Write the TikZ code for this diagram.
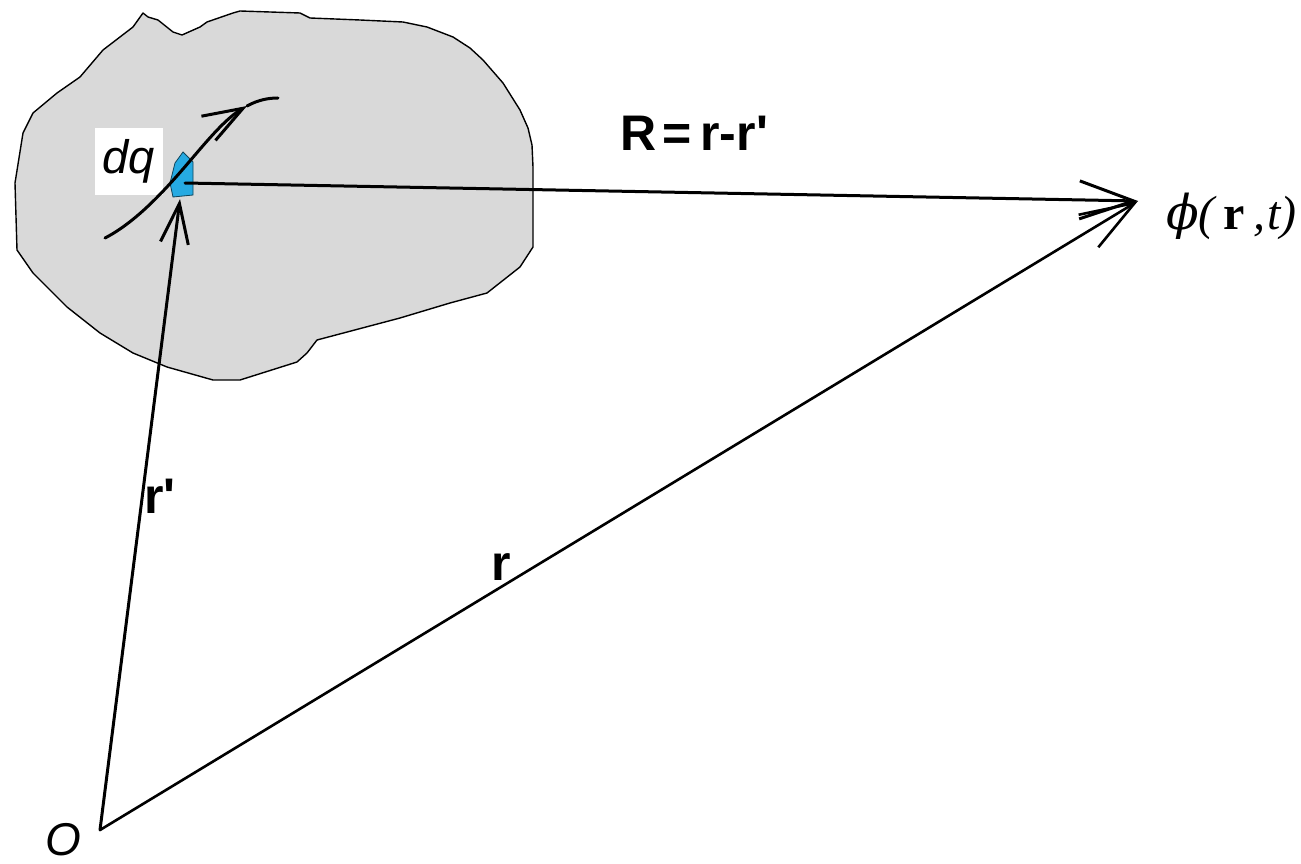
\documentclass[tikz,border=0pt]{standalone}
\usepackage{fontspec}
\setmainfont{Liberation Sans}
\newfontfamily\serifit{Liberation Serif}
\newfontfamily\phifont{DejaVu Serif}
\usetikzlibrary{arrows.meta}
\definecolor{blobgray}{RGB}{217,217,217}
\definecolor{dqblue}{RGB}{38,170,226}
\tikzset{
  blob/.style={draw=black, line width=1.4pt, fill=blobgray, line join=round},
  vec/.style={draw=black, line width=3pt, line cap=round},
  bigbarb/.style={-{Straight Barb[length=54pt,width=38pt]}},
  smallbarb/.style={-{Straight Barb[length=40pt,width=28pt]}},
  lab/.style={font=\fontsize{50}{54}\selectfont\bfseries, inner sep=0pt},
}
\begin{document}
\begin{tikzpicture}[x=1pt,y=-1pt]
\useasboundingbox (0,0) rectangle (1301,864);
% charged region
\draw[blob] (143,13) -- (148,17) -- (158,20) -- (173,32) -- (182,35) -- (200,27) -- (207,22) -- (233,13) -- (240,11) -- (300,13) -- (310,18) -- (360,20) -- (403,22) -- (427,27) -- (453,37) -- (470,48) -- (483,60) -- (503,83) -- (520,110) -- (528,128) -- (532,145) -- (533,167) -- (533,247) -- (520,267) -- (487,293) -- (450,303) -- (400,318) -- (317,340) -- (307,353) -- (297,362) -- (240,380) -- (213,380) -- (167,367) -- (133,353) -- (100,333) -- (67,307) -- (33,273) -- (17,250) -- (15,183) -- (23,133) -- (33,113) -- (57,93) -- (80,77) -- (103,50) -- (133,27) -- cycle;
% dq label
\node[fill=white, minimum width=68pt, minimum height=67pt, inner sep=0pt,
      font=\fontsize{47}{50}\selectfont\itshape] (dqlab) at (129,161.5) {dq};
% element of charge
\draw[fill=dqblue, draw=black!60!dqblue, line width=0.8pt] (175,163) -- (183,152) -- (193,162) -- (193,195) -- (173,197) -- (170,183) -- cycle;
% trajectory through dq
\draw[vec, smallbarb] (105,238) .. controls (140,220) and (172,182) .. (195,155) .. controls (212,135) and (228,117) .. (247,106);
\draw[vec] (247,106) .. controls (258,100) and (268,98) .. (278,98);
% points
\coordinate (O) at (100,830);
\coordinate (src) at (185,183);
\coordinate (srcb) at (180,199);
\coordinate (P) at (1138,201);
% vectors
\draw[vec, bigbarb] (src) -- (P);
\draw[vec, bigbarb, line width=2.6pt] (O) -- (P);
\draw[vec, smallbarb] (O) -- (srcb);
% labels
\node[lab, anchor=base west] (Rlab) at (620,150) {R\kern6pt=\kern9pt r-r\textquotesingle};
\node[lab, anchor=base west] (rplab) at (144,513) {r\textquotesingle};
\node[lab, anchor=base west] (rlab) at (491,580) {r};
\node[font=\fontsize{46}{50}\selectfont\itshape, inner sep=0pt] (Olab) at (63,840) {O};
\node[anchor=base west, inner sep=0pt] (philab) at (1166,229)
  {\fontsize{48}{52}\selectfont{\phifont\itshape ϕ}{\serifit\itshape(}\kern9pt{\serifit\bfseries r}\kern8pt{\serifit\itshape ,}\kern2pt{\serifit\itshape t)}};
\end{tikzpicture}
\end{document}
